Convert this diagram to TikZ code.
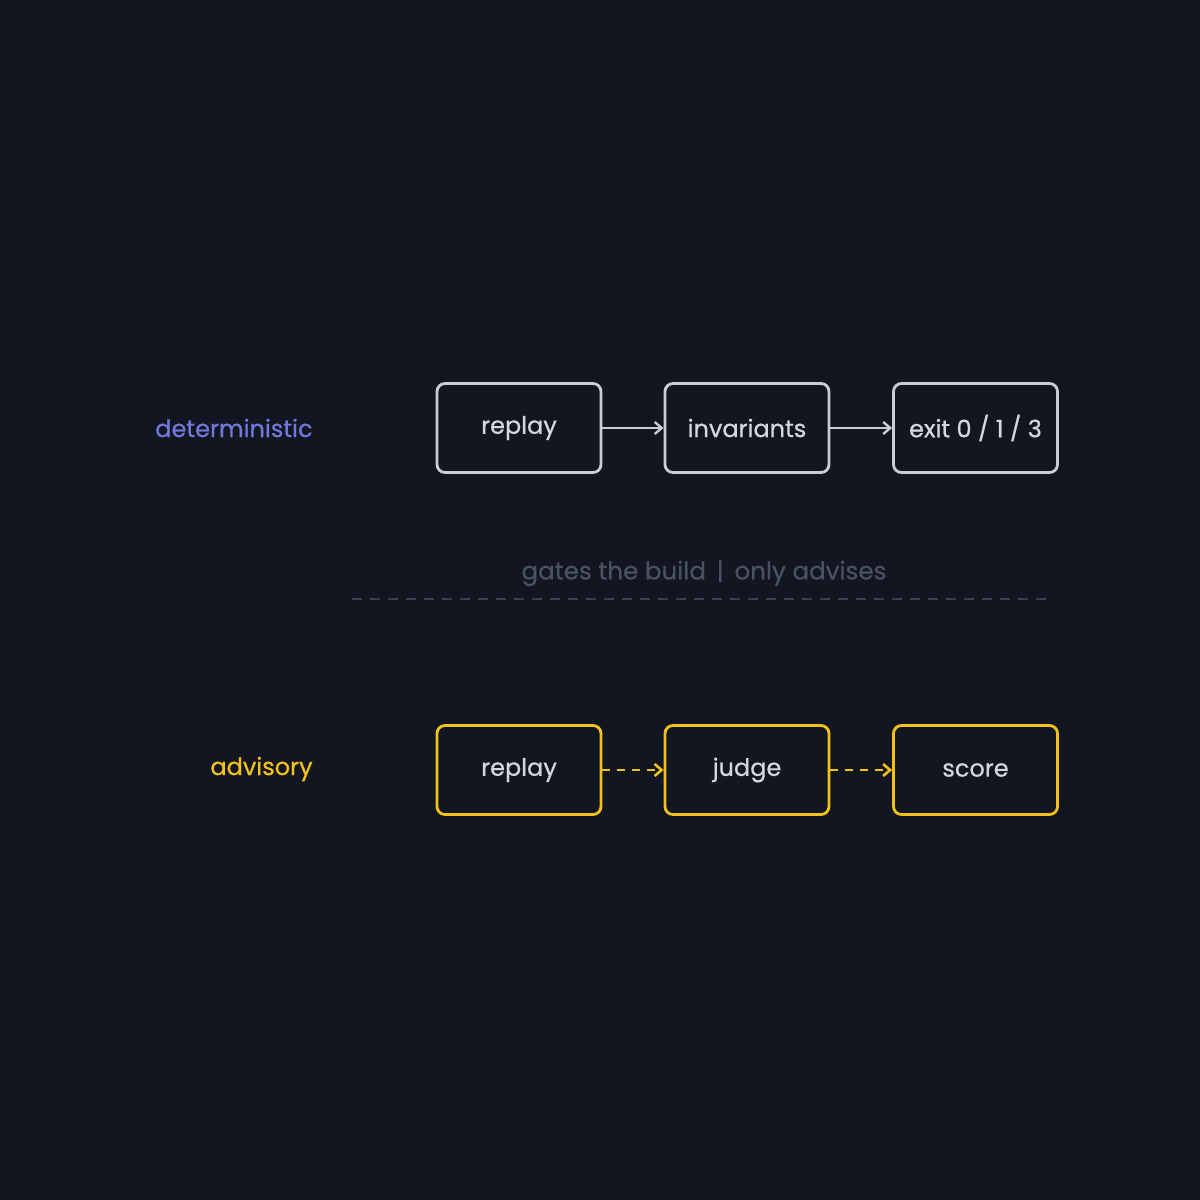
\documentclass[tikz,border=0pt]{standalone}
\usepackage{fontspec}
\setmainfont{Poppins}[FakeBold=0.6,UprightFeatures={FakeBold=0.6}]
\usetikzlibrary{arrows.meta}
\definecolor{bg}{HTML}{111620}
\definecolor{boxline}{HTML}{C9CDD6}
\definecolor{txt}{HTML}{D4D7DE}
\definecolor{ylw}{HTML}{F2C21B}
\definecolor{purp}{HTML}{7378DC}
\definecolor{muted}{HTML}{4A5163}
\definecolor{sep}{HTML}{3A4050}
\tikzset{
  box/.style={draw=boxline, line width=1.4pt, rounded corners=4pt, minimum width=82pt, minimum height=44.5pt, inner sep=0pt, text=txt, font=\fontsize{12}{14}\selectfont},
  ybox/.style={box, draw=ylw},
  solidarrow/.style={draw=boxline, line width=1.2pt, -{Straight Barb[length=3.5pt,width=6pt,line width=1.2pt]}},
  dasharrow/.style={draw=ylw, line width=1.4pt, dash pattern=on 4pt off 3.5pt, -{Straight Barb[length=3.5pt,width=6pt,line width=1.3pt]}},
  rowlabel/.style={anchor=east, inner sep=0pt, font=\fontsize{12}{14}\selectfont}
}
\begin{document}
\begin{tikzpicture}[x=0.5pt,y=-0.5pt]
\fill[bg] (0,0) rectangle (1200,1200);
\useasboundingbox (0,0) rectangle (1200,1200);
\node[rowlabel, text=purp] (ldet) at (313,428) {deterministic};
\node[rowlabel, text=ylw] (ladv) at (313,769) {advisory};
\node[box] (r1) at (519,428) {replay};
\node[box] (i1) at (747,428) {invariants};
\node[box] (e1) at (975.5,428) {exit 0 / 1 / 3};
\draw[solidarrow] (r1.east) -- (i1.west);
\draw[solidarrow] (i1.east) -- (e1.west);
\node[ybox] (r2) at (519,770) {replay};
\node[ybox] (j2) at (747,770) {judge};
\node[ybox] (s2) at (975.5,770) {score};
\draw[dasharrow] (r2.east) -- (j2.west);
\draw[dasharrow] (j2.east) -- (s2.west);
\node[text=muted, inner sep=0pt, font=\fontsize{12.3}{14}\selectfont] (mid) at (704,573) {gates the build \,|\, only advises};
\coordinate (sl) at (352,599);
\coordinate (sr) at (1052,599);
\draw[sep, line width=1.3pt, dash pattern=on 5pt off 4pt] (sl) -- (sr);
\end{tikzpicture}
\end{document}
